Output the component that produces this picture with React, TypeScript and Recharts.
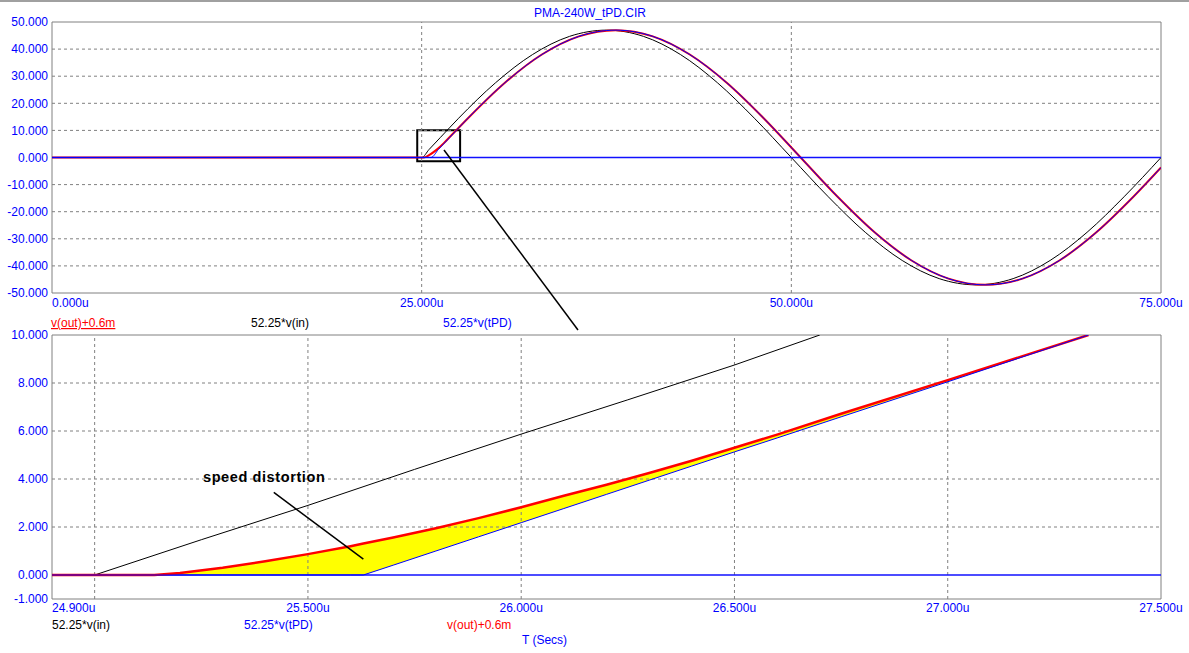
import React from 'react';
import { ComposedChart, Line, Area, XAxis, YAxis, ReferenceLine, ReferenceArea } from 'recharts';

const FONT = '"Liberation Sans", Arial, Helvetica, sans-serif';
const BLUE = '#0000ff';
const RED = '#ff0000';
const GRID = '#808080';

// ---------- Top panel (0 .. 75u) ----------
const topInT = [0, 25, 25.5, 26.25, 27.5, 30, 32.5, 35, 37.5, 40, 42.5, 45, 47.5, 50, 52.5, 55, 57.5, 60, 62.5, 65, 67.5, 70, 72.5, 75];
const topInV = [0, 0, 2.95, 7.3, 14.5, 27.6, 38.0, 44.7, 47.0, 44.7, 38.0, 27.6, 14.5, 0, -14.5, -27.6, -38.0, -44.7, -47.0, -44.7, -38.0, -27.6, -14.5, 0];

const topOutT = [0, 25.14, 25.5, 26, 26.5, 27, 28.13, 30.63, 33.13, 35.63, 38.13, 40.63, 43.13, 45.63, 48.13, 50.63, 53.13, 55.63, 58.13, 60.63, 63.13, 65.63, 68.13, 70.63, 73.13, 75];
const topOutV = [0, 0, 0.87, 2.82, 5.3, 8.12, 14.5, 27.6, 38.0, 44.7, 47.0, 44.7, 38.0, 27.6, 14.5, 0, -14.5, -27.6, -38.0, -44.7, -47.0, -44.7, -38.0, -27.6, -14.5, -3.7];

const topPdT = [0, 25.63, 26.13, 26.88, 28.13, 30.63, 33.13, 35.63, 38.13, 40.63, 43.13, 45.63, 48.13, 50.63, 53.13, 55.63, 58.13, 60.63, 63.13, 65.63, 68.13, 70.63, 73.13, 75];
const topPdV = [0, 0, 2.95, 7.3, 14.5, 27.6, 38.0, 44.7, 47.0, 44.7, 38.0, 27.6, 14.5, 0, -14.5, -27.6, -38.0, -44.7, -47.0, -44.7, -38.0, -27.6, -14.5, -3.7];

const topXTicks = [0, 25, 50, 75];
const topYTicks = [-50, -40, -30, -20, -10, 0, 10, 20, 30, 40, 50];
const topXGrid = [25, 50];
const topYGrid = [-40, -30, -20, -10, 10, 20, 30, 40];

// ---------- Bottom panel (24.9u .. 27.5u) ----------
const botInT = [24.9, 25.0, 25.25, 25.5, 25.75, 26.0, 26.25, 26.5, 26.7];
const botInV = [0, 0, 1.47, 2.9, 4.4, 5.87, 7.3, 8.75, 10.0];

const botT = [24.9, 25.14, 25.2, 25.3, 25.4, 25.5, 25.6, 25.63, 25.7, 25.8, 25.9, 26.0, 26.1, 26.2, 26.3, 26.4, 26.5, 26.6, 26.75, 27.0, 27.33];
const botOutV = [0, 0, 0.08, 0.3, 0.57, 0.87, 1.2, 1.31, 1.56, 1.95, 2.37, 2.82, 3.3, 3.76, 4.25, 4.76, 5.3, 5.85, 6.72, 8.12, 10.0];
const botPdV = [0, 0, 0, 0, 0, 0, 0, 0, 0.41, 1.0, 1.59, 2.18, 2.77, 3.36, 3.95, 4.54, 5.13, 5.71, 6.59, 8.05, 10.0];

const botXTicks = [24.9, 25.5, 26.0, 26.5, 27.0, 27.5];
const botYTicks = [-1, 0, 2, 4, 6, 8, 10];
const botXGrid = [25.0, 25.5, 26.0, 26.5, 27.0];
const botYGrid = [2, 4, 6, 8];

const zip = (ts: number[], vs: number[]) => ts.map((t, i) => ({ t, v: vs[i] }));

const topIn = zip(topInT, topInV);
const topOut = zip(topOutT, topOutV);
const topPd = zip(topPdT, topPdV);
const botIn = zip(botInT, botInV);
const botOut = zip(botT, botOutV);
const botPd = zip(botT, botPdV);
// fill between v(tPD) (low) and v(out) (high)
const botFill = botT.slice(1).map((t, i) => ({ t, lo: botPdV[i + 1], hi: botOutV[i + 1] }));

const XTick = (props: any) => {
  const { x, y, payload, index } = props;
  return (
    <text
      x={x}
      y={y}
      dy="0.71em"
      textAnchor={index === 0 ? 'start' : 'middle'}
      fill={BLUE}
      fontSize={12}
      fontFamily={FONT}
    >
      {Number(payload.value).toFixed(3) + 'u'}
    </text>
  );
};

const yTickStyle = { fill: BLUE, fontSize: 12, fontFamily: FONT };
const fmtY = (v: number) => v.toFixed(3);

export default function App() {
  return (
    <div style={{ position: 'absolute', left: 0, top: 0, width: 1189, height: 653, background: '#fff', overflow: 'hidden' }}>
      <div style={{ position: 'absolute', left: 0, top: 0 }}>
        <ComposedChart width={1189} height={330} margin={{ top: 22, right: 28, left: 0, bottom: 0 }}>
          <XAxis
            dataKey="t"
            type="number"
            domain={[0, 75]}
            ticks={topXTicks}
            interval={0}
            allowDataOverflow
            tickLine={false}
            axisLine={false}
            tickSize={5}
            tickMargin={0}
            height={37}
            tick={<XTick />}
          />
          <YAxis
            type="number"
            domain={[-50, 50]}
            ticks={topYTicks}
            interval={0}
            allowDataOverflow
            width={52}
            tickLine={false}
            axisLine={false}
            tickSize={4}
            tickMargin={0}
            tick={yTickStyle}
            tickFormatter={fmtY}
          />
          {topYGrid.map((g) => (
            <ReferenceLine key={'ty' + g} y={g} stroke={GRID} strokeDasharray="3 3" />
          ))}
          {topXGrid.map((g) => (
            <ReferenceLine key={'tx' + g} x={g} stroke={GRID} strokeDasharray="3 3" />
          ))}
          <ReferenceArea x1={0} x2={75} y1={-50} y2={50} fill="none" stroke={GRID} strokeWidth={1} />
          <Line data={topIn} dataKey="v" type="monotone" stroke="#000000" strokeWidth={1} dot={false} activeDot={false} isAnimationActive={false} />
          <Line data={topOut} dataKey="v" type="monotone" stroke={RED} strokeWidth={2} dot={false} activeDot={false} isAnimationActive={false} />
          <ReferenceLine y={0} stroke="#1010ff" strokeWidth={1.6} />
          <Line data={topPd} dataKey="v" type="monotone" stroke={BLUE} strokeWidth={1} dot={false} activeDot={false} isAnimationActive={false} />
          <ReferenceArea x1={24.7} x2={27.6} y1={-1.4} y2={10.1} fill="none" stroke="#000000" strokeWidth={2} />
        </ComposedChart>
      </div>

      <div style={{ position: 'absolute', left: 0, top: 320 }}>
        <ComposedChart width={1189} height={333} margin={{ top: 15, right: 28, left: 0, bottom: 0 }} data={botFill}>
          <XAxis
            dataKey="t"
            type="number"
            domain={[24.9, 27.5]}
            ticks={botXTicks}
            interval={0}
            allowDataOverflow
            tickLine={false}
            axisLine={false}
            tickSize={4}
            tickMargin={0}
            height={54}
            tick={<XTick />}
          />
          <YAxis
            type="number"
            domain={[-1, 10]}
            ticks={botYTicks}
            interval={0}
            allowDataOverflow
            width={52}
            tickLine={false}
            axisLine={false}
            tickSize={4}
            tickMargin={0}
            tick={yTickStyle}
            tickFormatter={fmtY}
          />
          {botYGrid.map((g) => (
            <ReferenceLine key={'by' + g} y={g} stroke={GRID} strokeDasharray="3 3" />
          ))}
          {botXGrid.map((g) => (
            <ReferenceLine key={'bx' + g} x={g} stroke={GRID} strokeDasharray="3 3" />
          ))}
          <ReferenceArea x1={24.9} x2={27.5} y1={-1} y2={10} fill="none" stroke={GRID} strokeWidth={1} />
          <Area
            dataKey={(d: any) => [d.lo, d.hi]}
            type="linear"
            fill="#ffff00"
            fillOpacity={1}
            stroke="none"
            dot={false}
            activeDot={false}
            isAnimationActive={false}
          />
          <ReferenceLine y={0} stroke="#1010ff" strokeWidth={1.3} />
          <Line data={botIn} dataKey="v" type="linear" stroke="#000000" strokeWidth={1} dot={false} activeDot={false} isAnimationActive={false} />
          <Line data={botOut} dataKey="v" type="linear" stroke={RED} strokeWidth={2.5} dot={false} activeDot={false} isAnimationActive={false} />
          <Line data={botPd} dataKey="v" type="linear" stroke={BLUE} strokeWidth={1} dot={false} activeDot={false} isAnimationActive={false} />
          <ReferenceLine
            segment={[{ x: 25.42, y: 3.44 }, { x: 25.63, y: 0.66 }]}
            stroke="#000000"
            strokeWidth={1.5}
          />
        </ComposedChart>
      </div>

      <svg width={1189} height={653} style={{ position: 'absolute', left: 0, top: 0, pointerEvents: 'none' }} fontFamily={FONT}>
        <line x1={0} y1={1} x2={1189} y2={1} stroke={GRID} strokeWidth={1.5} />
        <text x={590} y={17} textAnchor="middle" fill={BLUE} fontSize={12}>PMA-240W_tPD.CIR</text>
        <text x={51} y={327} fill={RED} fontSize={12} textDecoration="underline" style={{ textDecoration: 'underline' }}>v(out)+0.6m</text>
        <text x={251} y={327} fill="#000000" fontSize={12}>52.25*v(in)</text>
        <text x={443} y={327} fill={BLUE} fontSize={12}>52.25*v(tPD)</text>
        <line x1={444} y1={150} x2={578} y2={330} stroke="#000000" strokeWidth={1.5} />
        <text x={203} y={482} fill="#000000" fontSize={14.5} fontWeight="bold" letterSpacing={0.6}>speed distortion</text>
        <text x={52} y={629} fill="#000000" fontSize={12}>52.25*v(in)</text>
        <text x={244} y={629} fill={BLUE} fontSize={12}>52.25*v(tPD)</text>
        <text x={447} y={629} fill={RED} fontSize={12}>v(out)+0.6m</text>
        <text x={522} y={644} fill={BLUE} fontSize={12}>T (Secs)</text>
      </svg>
    </div>
  );
}
